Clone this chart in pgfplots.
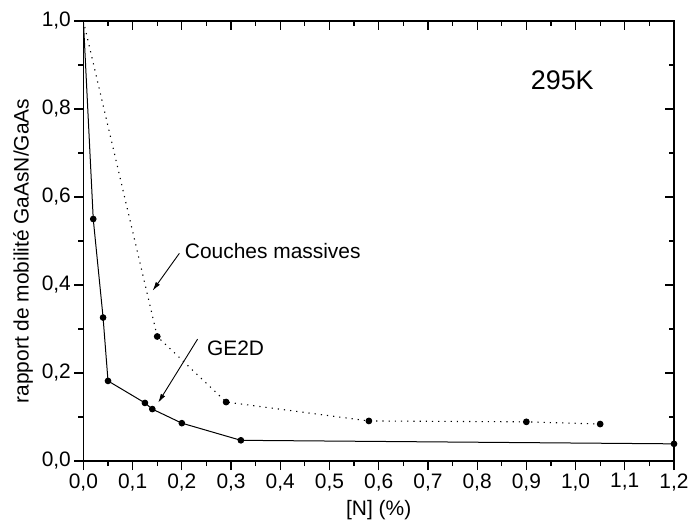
\documentclass[border=0pt]{standalone}
\usepackage{fontspec}
\setmainfont{Liberation Sans}
\usepackage{pgfplots}
\pgfplotsset{compat=1.18}
\usetikzlibrary{calc,arrows.meta}

\newcommand{\lab}{\fontsize{21}{25}\selectfont}

\begin{document}
\begin{tikzpicture}
\pgfplotsset{
  frame/.style={
    scale only axis,
    width=590.6bp, height=440bp,
    xmin=0, xmax=1.2, ymin=0, ymax=1.0,
    xtick={0,0.1,0.2,0.3,0.4,0.5,0.6,0.7,0.8,0.9,1.0,1.1,1.2},
    ytick={0,0.2,0.4,0.6,0.8,1.0},
    minor x tick num=1, minor y tick num=1,
    major tick length=9bp, minor tick length=5bp,
    axis line style={line width=1.2bp},
    every tick/.style={black, line width=1.2bp},
  },
}
\begin{axis}[
  frame,
  name=main,
  tick align=outside, xtick pos=bottom, ytick pos=left,
  /pgf/number format/use comma,
  /pgf/number format/fixed,
  /pgf/number format/fixed zerofill,
  /pgf/number format/precision=1,
  /pgf/number format/assume math mode=true,
  every tick label/.append style={font=\lab},
  label style={font=\lab},
  xlabel={[N] (\%)},
  ylabel={rapport de mobilité GaAsN/GaAs},
  xlabel style={at={(axis description cs:0.5,-0.111)}, anchor=center},
  ylabel style={at={(axis description cs:-0.1023,0.477)}, anchor=center},
]
% GE2D
\addplot[black, line width=1bp, mark=*, mark size=2.8bp,
  mark indices={2,3,4,5,6,7,8,9}] coordinates {
  (0,1.0) (0.02,0.55) (0.04,0.326) (0.05,0.182) (0.125,0.132)
  (0.14,0.118) (0.2,0.086) (0.32,0.047) (1.2,0.039)
};
% couches massives
\addplot[black, line width=1.1bp, dash pattern=on 1.2bp off 5bp, mark=*, mark size=2.8bp,
  mark options={solid}, mark indices={2,3,4,5,6}] coordinates {
  (0,1.0) (0.15,0.283) (0.29,0.134) (0.58,0.091) (0.9,0.089) (1.05,0.084)
};
\node[anchor=west, font=\lab, inner sep=0pt] at (axis cs:0.206,0.477) {Couches massives};
\draw[-{Latex[length=9bp,width=5bp]}, line width=0.9bp] (axis cs:0.195,0.472) -- (axis cs:0.1406,0.387);
\node[anchor=west, font=\lab, inner sep=0pt] at (axis cs:0.251,0.256) {GE2D};
\draw[-{Latex[length=9bp,width=5bp]}, line width=0.9bp] (axis cs:0.232,0.277) -- (axis cs:0.152,0.1325);
\node[font=\fontsize{27}{32}\selectfont] at (axis cs:0.973,0.866) {295K};
\end{axis}
\begin{axis}[
  frame,
  tick align=inside, xtick pos=top, ytick pos=right,
  xticklabels={}, yticklabels={},
]
\end{axis}
\pgfresetboundingbox
\path[use as bounding box] ($(main.south west)+(-83.4bp,-62bp)$) rectangle ($(main.north east)+(17bp,21bp)$);
\end{tikzpicture}
\end{document}
